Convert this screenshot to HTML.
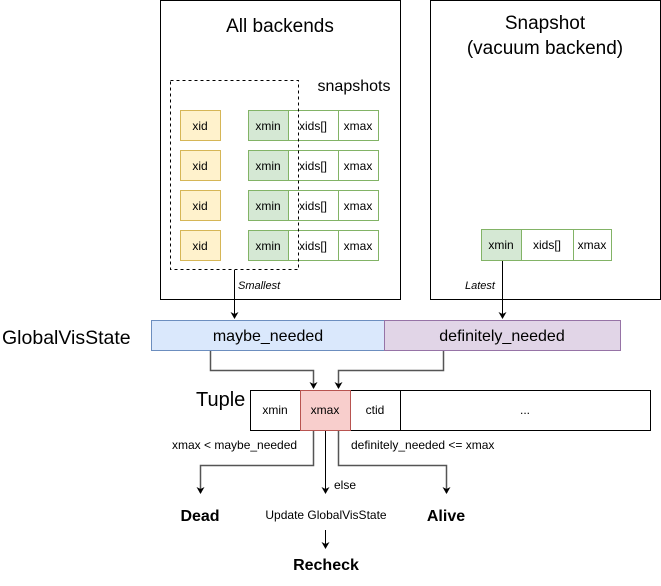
<!DOCTYPE html>
<html><head><style>
body{margin:0;background:#fff;}
svg text{font-family:"Liberation Sans",sans-serif;}
</style></head><body>
<svg width="661" height="581" viewBox="0 0 661 581" xmlns="http://www.w3.org/2000/svg">
<defs><marker id="a" markerWidth="8" markerHeight="8" refX="6" refY="4" orient="auto" markerUnits="userSpaceOnUse"><path d="M0,0 L7,4 L0,8 L2,4 z" fill="#000"/></marker></defs>
<rect x="160.5" y="0.5" width="240" height="299" fill="#fff" stroke="#000"/>
<rect x="430.5" y="0.5" width="230" height="299" fill="#fff" stroke="#000"/>
<text x="280" y="32" font-size="19" text-anchor="middle">All backends</text>
<text x="545" y="29" font-size="19" text-anchor="middle">Snapshot</text>
<text x="545" y="54" font-size="19" text-anchor="middle">(vacuum backend)</text>
<text x="354" y="91" font-size="16" text-anchor="middle">snapshots</text>
<g font-size="12" text-anchor="middle">
<g id="r">
<rect x="180.5" y="110.5" width="40" height="30" fill="#fff2cc" stroke="#d6b656"/>
<text x="200" y="130">xid</text>
<rect x="248.5" y="110.5" width="40" height="30" fill="#d5e8d4" stroke="#82b366"/>
<rect x="288.5" y="110.5" width="50" height="30" fill="#fff" stroke="#82b366"/>
<rect x="338.5" y="110.5" width="40" height="30" fill="#fff" stroke="#82b366"/>
<text x="268" y="130">xmin</text><text x="313" y="130">xids[]</text><text x="358" y="130">xmax</text>
</g>
<use href="#r" y="40"/><use href="#r" y="80"/><use href="#r" y="120"/>
<rect x="481.5" y="229.5" width="40" height="31" fill="#d5e8d4" stroke="#82b366"/>
<rect x="521.5" y="229.5" width="52" height="31" fill="#fff" stroke="#82b366"/>
<rect x="573.5" y="229.5" width="38" height="31" fill="#fff" stroke="#82b366"/>
<text x="501" y="249">xmin</text><text x="547" y="249">xids[]</text><text x="592" y="249">xmax</text>
</g>
<rect x="170.5" y="80.5" width="128" height="189" fill="none" stroke="#000" stroke-dasharray="3,3"/>
<line x1="234.5" y1="270" x2="234.5" y2="318" stroke="#000" marker-end="url(#a)"/>
<text x="238" y="289" font-size="11" font-style="italic">Smallest</text>
<line x1="502.5" y1="261" x2="502.5" y2="318" stroke="#000" marker-end="url(#a)"/>
<text x="465" y="289" font-size="11" font-style="italic">Latest</text>
<text x="2" y="344" font-size="19.5">GlobalVisState</text>
<rect x="151.5" y="320.5" width="233" height="30" fill="#dae8fc" stroke="#6c8ebf"/>
<rect x="384.5" y="320.5" width="236" height="30" fill="#e1d5e7" stroke="#9673a6"/>
<text x="268" y="341" font-size="16" text-anchor="middle">maybe_needed</text>
<text x="502" y="341" font-size="16" text-anchor="middle">definitely_needed</text>
<path d="M210.5 351 V370.5 H313.5 V388" fill="none" stroke="#555" stroke-width="1.5" marker-end="url(#a)"/>
<path d="M443.5 351 V370.5 H338.5 V388" fill="none" stroke="#555" stroke-width="1.5" marker-end="url(#a)"/>
<text x="196" y="406" font-size="20">Tuple</text>
<rect x="250.5" y="390.5" width="400" height="40" fill="#fff" stroke="#000"/>
<rect x="300.5" y="390.5" width="50" height="40" fill="#f8cecc" stroke="#b85450"/>
<line x1="400.5" y1="390" x2="400.5" y2="430" stroke="#000"/>
<g font-size="12" text-anchor="middle">
<text x="275" y="414">xmin</text><text x="325" y="414">xmax</text><text x="375" y="414">ctid</text><text x="525" y="414">...</text>
</g>
<path d="M313.5 431 V465.5 H200.5 V493" fill="none" stroke="#555" stroke-width="1.5" marker-end="url(#a)"/>
<path d="M325.5 431 V493" fill="none" stroke="#000" marker-end="url(#a)"/>
<path d="M338.5 431 V465.5 H446.5 V493" fill="none" stroke="#555" stroke-width="1.5" marker-end="url(#a)"/>
<text x="172" y="449" font-size="12">xmax &lt; maybe_needed</text>
<text x="351" y="449" font-size="12">definitely_needed &lt;= xmax</text>
<text x="334" y="489" font-size="12">else</text>
<text x="200" y="521" font-size="16" font-weight="bold" text-anchor="middle">Dead</text>
<text x="326" y="519" font-size="12" text-anchor="middle">Update GlobalVisState</text>
<text x="446" y="521" font-size="16" font-weight="bold" text-anchor="middle">Alive</text>
<line x1="325.5" y1="530" x2="325.5" y2="548" stroke="#000" marker-end="url(#a)"/>
<text x="326" y="570" font-size="16" font-weight="bold" text-anchor="middle">Recheck</text>
</svg>
</body></html>
